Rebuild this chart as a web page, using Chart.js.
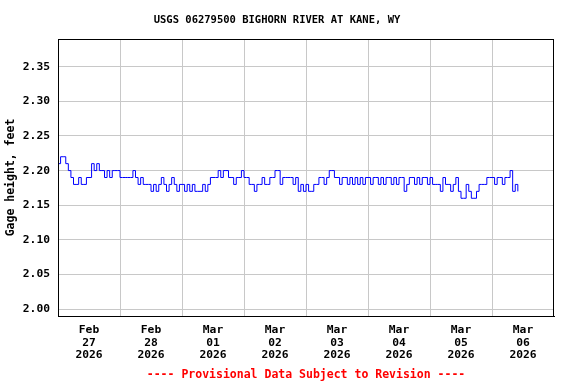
<!DOCTYPE html>
<html>
<head>
<meta charset="utf-8">
<title>USGS 06279500 BIGHORN RIVER AT KANE, WY</title>
<script src="https://cdn.jsdelivr.net/npm/chart.js@4"></script>
<style>
  body { margin: 0; background: #fff; }
  canvas { display: block; }
</style>
</head>
<body>
<canvas id="gage" width="576" height="384"></canvas>
<script>
  // hourly gage height, feet (hour 0 = midnight)
  const feb27 = [2.21,2.22,2.22,2.21,2.20,2.19,2.18,2.18,2.19,2.18,2.18,2.19,2.19,2.21,2.20,2.21,2.20,2.20,2.19,2.20,2.19,2.20,2.20,2.20];
  const feb28 = [2.19,2.19,2.19,2.19,2.19,2.20,2.19,2.18,2.19,2.18,2.18,2.18,2.17,2.18,2.17,2.18,2.19,2.18,2.17,2.18,2.19,2.18,2.17,2.18];
  const mar01 = [2.18,2.17,2.18,2.17,2.18,2.17,2.17,2.17,2.18,2.17,2.18,2.19,2.19,2.19,2.20,2.19,2.20,2.20,2.19,2.19,2.18,2.19,2.19,2.20];
  const mar02 = [2.19,2.19,2.18,2.18,2.17,2.18,2.18,2.19,2.18,2.18,2.19,2.19,2.20,2.20,2.18,2.19,2.19,2.19,2.19,2.18,2.19,2.17,2.18,2.17];
  const mar03 = [2.18,2.17,2.17,2.18,2.18,2.19,2.19,2.18,2.19,2.20,2.20,2.19,2.19,2.18,2.19,2.19,2.18,2.19,2.18,2.19,2.18,2.19,2.18,2.19];
  const mar04 = [2.19,2.18,2.19,2.19,2.18,2.19,2.18,2.19,2.19,2.18,2.19,2.18,2.19,2.19,2.17,2.18,2.19,2.19,2.18,2.19,2.18,2.19,2.19,2.18];
  const mar05 = [2.19,2.18,2.18,2.18,2.17,2.19,2.18,2.18,2.17,2.18,2.19,2.17,2.16,2.16,2.18,2.17,2.16,2.16,2.17,2.18,2.18,2.18,2.19,2.19];
  const mar06 = [2.19,2.18,2.19,2.19,2.18,2.19,2.19,2.20,2.17,2.18,2.17];

  // x axis: one label per day, at noon
  const dayMonths  = ['Feb', 'Feb', 'Mar', 'Mar', 'Mar', 'Mar', 'Mar', 'Mar'];
  const dayNumbers = ['27', '28', '01', '02', '03', '04', '05', '06'];
  const dayYears   = ['2026', '2026', '2026', '2026', '2026', '2026', '2026', '2026'];

  const yTicks = [2.00, 2.05, 2.10, 2.15, 2.20, 2.25, 2.30, 2.35];
  const yMin = 1.99, yMax = 2.39;

  const hourly = [feb27, feb28, mar01, mar02, mar03, mar04, mar05, mar06].flat();
  const points = hourly.map((v, i) => ({ x: i, y: v }));
  const totalHours = dayNumbers.length * 24;

  const FONT = "'DejaVu Sans Mono', monospace";
  const GRID = '#c8c8c8';

  // white background + box around the plot
  const frame = {
    id: 'frame',
    beforeDraw(chart) {
      const c = chart.ctx;
      c.save();
      c.fillStyle = '#fff';
      c.fillRect(0, 0, chart.width, chart.height);
      c.restore();
    },
    afterDraw(chart) {
      const a = chart.chartArea;
      const c = chart.ctx;
      c.save();
      c.strokeStyle = '#000';
      c.lineWidth = 1;
      c.strokeRect(Math.round(a.left) + 0.5, Math.round(a.top) + 0.5,
                   Math.round(a.right - a.left) - 1, Math.round(a.bottom - a.top));
      c.restore();
    }
  };

  new Chart(document.getElementById('gage'), {
    type: 'line',
    data: {
      datasets: [{
        data: points,
        borderColor: '#0000ff',
        borderWidth: 1,
        pointRadius: 0,
        stepped: true,
        fill: false
      }]
    },
    options: {
      responsive: false,
      animation: false,
      devicePixelRatio: 1,
      layout: { padding: { right: 22 } },
      plugins: {
        legend: { display: false },
        tooltip: { enabled: false },
        title: {
          display: true,
          text: 'USGS 06279500 BIGHORN RIVER AT KANE, WY',
          color: '#000',
          font: { family: FONT, size: 10.5, weight: 'bold', lineHeight: 1.2 },
          padding: { top: 13.7, bottom: 12.7 }
        }
      },
      scales: {
        x: {
          type: 'linear',
          min: 0,
          max: totalHours,
          afterFit(scale) { scale.height = 68; },
          afterBuildTicks(scale) {
            const t = [];
            for (let h = 0; h <= totalHours; h += 12) t.push({ value: h });
            scale.ticks = t;
          },
          grid: {
            drawTicks: false,
            color: ctx => (ctx.tick && ctx.tick.value % 24 === 0 && ctx.tick.value > 0 && ctx.tick.value < totalHours) ? GRID : 'rgba(0,0,0,0)'
          },
          border: { color: '#000', width: 1 },
          ticks: {
            autoSkip: false,
            maxRotation: 0,
            padding: 7.5,
            color: '#000',
            font: { family: FONT, size: 11.3, weight: 'bold', lineHeight: 1.13 },
            callback: v => {
              if (v % 24 !== 12) return '';
              const d = (v - 12) / 24;
              return [dayMonths[d], dayNumbers[d], dayYears[d]];
            }
          },
          title: {
            display: true,
            text: '---- Provisional Data Subject to Revision ----',
            color: '#ff0000',
            font: { family: FONT, size: 11.5, weight: 'bold', lineHeight: 1.2 },
            padding: { top: 0, bottom: 2.1 }
          }
        },
        y: {
          min: yMin,
          max: yMax,
          afterFit(scale) { scale.width = 58; },
          afterBuildTicks(scale) { scale.ticks = yTicks.map(v => ({ value: v })); },
          grid: { drawTicks: false, color: GRID },
          border: { color: '#000', width: 1 },
          ticks: {
            padding: 8,
            color: '#000',
            font: { family: FONT, size: 11.3, weight: 'bold' },
            callback: v => v.toFixed(2)
          },
          title: {
            display: true,
            text: 'Gage height, feet',
            color: '#000',
            font: { family: FONT, size: 11.5, weight: 'bold', lineHeight: 1.2 },
            padding: { top: 4, bottom: 0 }
          }
        }
      }
    },
    plugins: [frame]
  });
</script>
</body>
</html>
